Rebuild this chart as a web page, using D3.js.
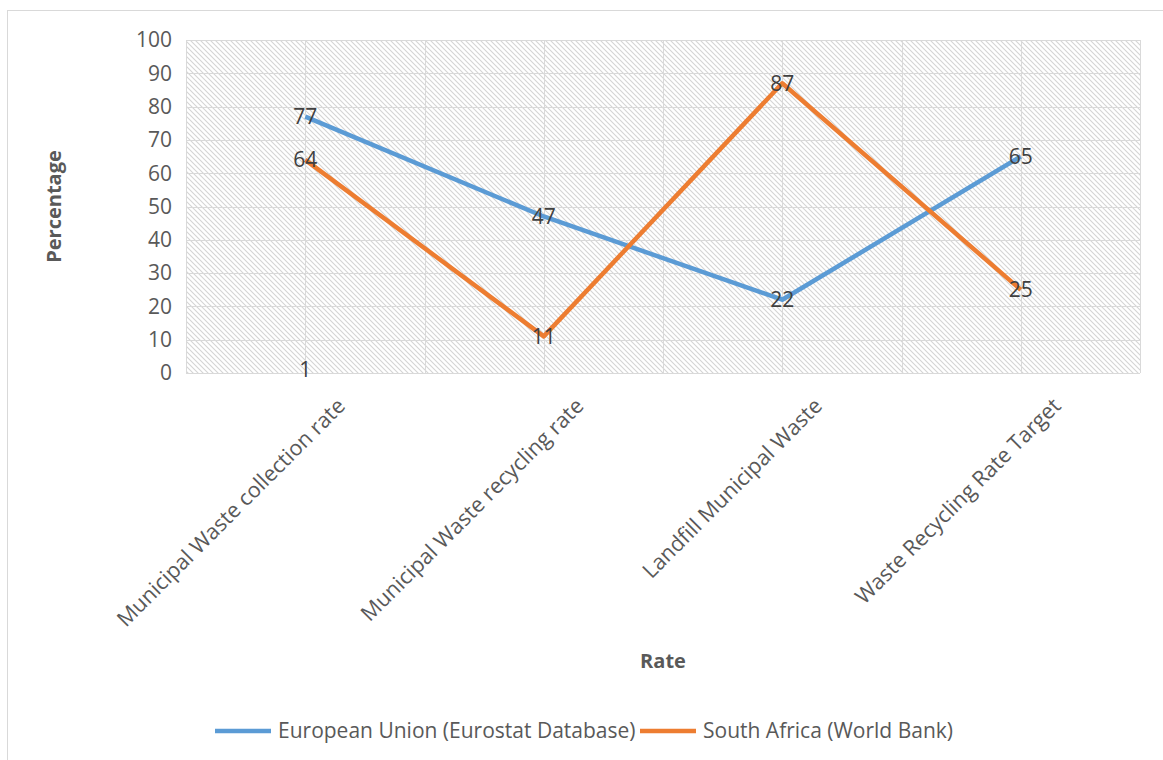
<!DOCTYPE html>
<html>
<head>
<meta charset="utf-8">
<script src="https://cdnjs.cloudflare.com/ajax/libs/d3/7.8.5/d3.min.js"></script>
<style>
  body { margin: 0; background: #fff; }
  text { font-family: "Open Sans", "Noto Sans", sans-serif; }
</style>
</head>
<body>
<div class="chart"></div>
<script>
var categories = ["Municipal Waste collection rate", "Municipal Waste recycling rate", "Landfill Municipal Waste", "Waste Recycling Rate Target"];
var euValues = [77, 47, 22, 65];
var saValues = [64, 11, 87, 25];
var strayLabel = [1]; // lone data label sitting on the first category
var yTicks = [0, 10, 20, 30, 40, 50, 60, 70, 80, 90, 100];
var seriesNames = ["European Union (Eurostat Database)", "South Africa (World Bank)"];
var colors = ["#5B9BD5", "#ED7D31"];

var width = 1163,
    height = 760;

var margin = {left: 186, right: 23, top: 40, bottom: 387};

var svg = d3.select(".chart").append("svg")
    .attr("width", width)
    .attr("height", height);

// outer chart border
svg.append("rect")
    .attr("x", 7.5).attr("y", 10.5)
    .attr("width", width).attr("height", height)
    .attr("fill", "none")
    .attr("stroke", "#d9d9d9");

var defs = svg.append("defs");
var pat = defs.append("pattern")
    .attr("id", "hatch")
    .attr("patternUnits", "userSpaceOnUse")
    .attr("width", 5).attr("height", 5);
pat.append("path")
    .attr("d", "M-1,-1 L6,6 M-1,4 L1,6 M4,-1 L6,1")
    .attr("stroke", "#d4d4d4")
    .attr("stroke-width", 1.1);

var x = d3.scaleBand()
    .domain(categories)
    .range([margin.left, width - margin.right]);

var y = d3.scaleLinear()
    .domain([0, 100])
    .range([height - margin.bottom, margin.top]);

var cx = function(i) { return x(categories[i]) + x.bandwidth() / 2; };

svg.append("rect")
    .attr("x", x.range()[0]).attr("y", y(100))
    .attr("width", x.range()[1] - x.range()[0])
    .attr("height", y(0) - y(100))
    .attr("fill", "url(#hatch)");

// horizontal grid
svg.append("g")
    .selectAll("line")
    .data(yTicks)
    .enter().append("line")
    .attr("x1", x.range()[0]).attr("x2", x.range()[1])
    .attr("y1", function(d) { return Math.round(y(d)) + 0.5; })
    .attr("y2", function(d) { return Math.round(y(d)) + 0.5; })
    .attr("stroke", "#d9d9d9")
    .attr("stroke-width", 1);

// vertical grid at band edges and centres
var vlines = [];
categories.forEach(function(c, i) { vlines.push(x(c)); vlines.push(cx(i)); });
vlines.push(x.range()[1]);
svg.append("g")
    .selectAll("line")
    .data(vlines)
    .enter().append("line")
    .attr("x1", function(d) { return Math.round(d) + 0.5; })
    .attr("x2", function(d) { return Math.round(d) + 0.5; })
    .attr("y1", y(100)).attr("y2", y(0))
    .attr("stroke", "#d9d9d9")
    .attr("stroke-width", 1);

// y axis labels
svg.append("g")
    .selectAll("text")
    .data(yTicks)
    .enter().append("text")
    .attr("x", 172)
    .attr("y", function(d) { return y(d); })
    .attr("dy", "0.35em")
    .attr("text-anchor", "end")
    .attr("fill", "#595959")
    .style("font-size", "21px")
    .text(function(d) { return d; });

// category labels
svg.append("g")
    .selectAll("text")
    .data(categories)
    .enter().append("text")
    .attr("transform", function(d, i) { return "translate(" + (cx(i) + 36) + "," + (y(0) + 29) + ") rotate(-45)"; })
    .attr("text-anchor", "end")
    .attr("dy", "0.35em")
    .attr("fill", "#595959")
    .style("font-size", "21.5px")
    .text(function(d) { return d; });

// axis titles
svg.append("text")
    .attr("transform", "translate(61," + ((y(0) + y(100)) / 2) + ") rotate(-90)")
    .attr("text-anchor", "middle")
    .attr("fill", "#595959")
    .style("font-size", "20px")
    .style("font-weight", "bold")
    .text("Percentage");

svg.append("text")
    .attr("x", 663).attr("y", 668)
    .attr("text-anchor", "middle")
    .attr("fill", "#595959")
    .style("font-size", "20px")
    .style("font-weight", "bold")
    .text("Rate");

var line = d3.line()
    .x(function(d, i) { return cx(i); })
    .y(function(d) { return y(d); });

[euValues, saValues].forEach(function(vals, k) {
    svg.append("path")
        .datum(vals)
        .attr("d", line)
        .attr("fill", "none")
        .attr("stroke", colors[k])
        .attr("stroke-width", 4.5)
        .attr("stroke-linejoin", "round");
});

var labels = [];
euValues.forEach(function(v, i) { labels.push({i: i, v: v}); });
saValues.forEach(function(v, i) { labels.push({i: i, v: v}); });
strayLabel.forEach(function(v, i) { labels.push({i: i, v: v}); });

svg.append("g")
    .selectAll("text")
    .data(labels)
    .enter().append("text")
    .attr("x", function(d) { return cx(d.i); })
    .attr("y", function(d) { return y(d.v); })
    .attr("dy", "0.35em")
    .attr("text-anchor", "middle")
    .attr("fill", "#404040")
    .style("font-size", "21px")
    .text(function(d) { return d.v; });

// legend
var legendX = [215, 640];
var lg = svg.append("g");
seriesNames.forEach(function(name, k) {
    lg.append("line")
        .attr("x1", legendX[k]).attr("x2", legendX[k] + 56)
        .attr("y1", 731).attr("y2", 731)
        .attr("stroke", colors[k])
        .attr("stroke-width", 4.5);
    lg.append("text")
        .attr("x", legendX[k] + 63)
        .attr("y", 731)
        .attr("dy", "0.35em")
        .attr("fill", "#595959")
        .style("font-size", "21px")
        .text(name);
});
</script>
</body>
</html>
